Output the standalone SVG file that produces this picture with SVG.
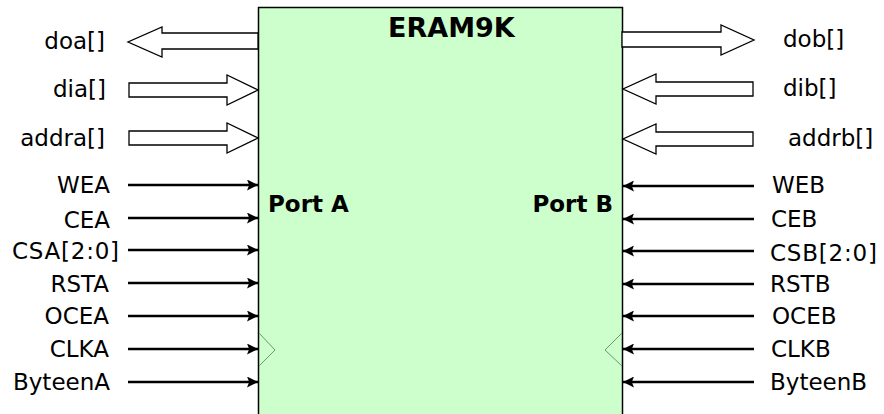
<svg xmlns="http://www.w3.org/2000/svg" width="884" height="414" viewBox="0 0 884 414">
<style>
.lbl{font-family:"DejaVu Sans","Liberation Sans",sans-serif;font-size:23px;fill:#000}
.ttl{font-family:"DejaVu Sans","Liberation Sans",sans-serif;font-weight:bold;fill:#000}
.bus{fill:#fff;stroke:#000;stroke-width:1.3}
.sig{stroke:#000;stroke-width:2.5;fill:none}
.clk{fill:none;stroke:#6a9a6a;stroke-width:1}
</style>
<defs>
<marker id="ah" viewBox="0 0 10 10" refX="10" refY="5" markerWidth="11" markerHeight="11" markerUnits="userSpaceOnUse" orient="auto">
<path d="M0,0 L10,5 L0,10 L2,5 z" fill="#000"/>
</marker>
</defs>
<g id="eram9k">
<rect x="258.5" y="7.5" width="364" height="420" fill="#ccffcc" stroke="#000" stroke-width="1.5"/>
<text class="ttl" x="388" y="37" font-size="27">ERAM9K</text>
<text class="ttl" x="268" y="212" font-size="23">Port A</text>
<text class="ttl" x="613" y="212" font-size="23" text-anchor="end">Port B</text>
<polyline class="clk" points="259,333 275,350 259,366"/>
<polyline class="clk" points="622,333 605,350 622,366"/>
</g>
<g id="connectors">
<polygon class="bus" points="258,33 162,33 162,27 128,42 162,57 162,49 258,49"/>
<polygon class="bus" points="129,83 227,83 227,75 258,90 227,105 227,97 129,97"/>
<polygon class="bus" points="129,131 227,131 227,123 258,138 227,153 227,145 129,145"/>
<polygon class="bus" points="622,32 721,32 721,25 754,40 721,55 721,47 622,47"/>
<polygon class="bus" points="753,82 656,82 656,74 623,89 656,104 656,96 753,96"/>
<polygon class="bus" points="753,132 656,132 656,124 623,139 656,154 656,146 753,146"/>
<line class="sig" x1="128" y1="185" x2="258" y2="185" marker-end="url(#ah)"/>
<line class="sig" x1="128" y1="218" x2="258" y2="218" marker-end="url(#ah)"/>
<line class="sig" x1="128" y1="250" x2="258" y2="250" marker-end="url(#ah)"/>
<line class="sig" x1="128" y1="283" x2="258" y2="283" marker-end="url(#ah)"/>
<line class="sig" x1="128" y1="316" x2="258" y2="316" marker-end="url(#ah)"/>
<line class="sig" x1="128" y1="349" x2="258" y2="349" marker-end="url(#ah)"/>
<line class="sig" x1="128" y1="382" x2="258" y2="382" marker-end="url(#ah)"/>
<line class="sig" x1="754" y1="186" x2="623" y2="186" marker-end="url(#ah)"/>
<line class="sig" x1="754" y1="219" x2="623" y2="219" marker-end="url(#ah)"/>
<line class="sig" x1="754" y1="251" x2="623" y2="251" marker-end="url(#ah)"/>
<line class="sig" x1="754" y1="284" x2="623" y2="284" marker-end="url(#ah)"/>
<line class="sig" x1="754" y1="316" x2="623" y2="316" marker-end="url(#ah)"/>
<line class="sig" x1="754" y1="349" x2="623" y2="349" marker-end="url(#ah)"/>
<line class="sig" x1="754" y1="382" x2="623" y2="382" marker-end="url(#ah)"/>
</g>
<g id="labels-left" class="lbl" text-anchor="end">
<text class="lbl" x="105" y="49" text-anchor="end">doa[]</text>
<text class="lbl" x="106" y="97" text-anchor="end">dia[]</text>
<text class="lbl" x="105" y="146" text-anchor="end">addra[]</text>
<text class="lbl" x="110" y="193" text-anchor="end">WEA</text>
<text class="lbl" x="110" y="228" text-anchor="end">CEA</text>
<text class="lbl" x="119" y="259" text-anchor="end" textLength="107" lengthAdjust="spacing">CSA[2:0]</text>
<text class="lbl" x="109" y="292" text-anchor="end">RSTA</text>
<text class="lbl" x="109" y="324" text-anchor="end">OCEA</text>
<text class="lbl" x="109" y="357" text-anchor="end">CLKA</text>
<text class="lbl" x="110" y="390" text-anchor="end">ByteenA</text>
</g>
<g id="labels-right" class="lbl">
<text class="lbl" x="783" y="47">dob[]</text>
<text class="lbl" x="783" y="96">dib[]</text>
<text class="lbl" x="788" y="146">addrb[]</text>
<text class="lbl" x="772" y="193">WEB</text>
<text class="lbl" x="771" y="227">CEB</text>
<text class="lbl" x="770" y="261" textLength="107" lengthAdjust="spacing">CSB[2:0]</text>
<text class="lbl" x="770" y="292">RSTB</text>
<text class="lbl" x="772" y="324">OCEB</text>
<text class="lbl" x="771" y="357">CLKB</text>
<text class="lbl" x="770" y="390">ByteenB</text>
</g>
</svg>
